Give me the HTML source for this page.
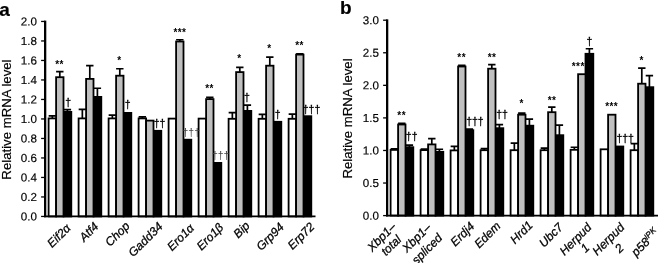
<!DOCTYPE html>
<html><head><meta charset="utf-8"><title>Figure</title>
<style>
html,body{margin:0;padding:0;background:#fff;}
svg{display:block;will-change:transform;font-family:"Liberation Sans", Arial, Helvetica, sans-serif;}
text{stroke:#000;stroke-width:0.18px;}
text.ns{stroke:none;letter-spacing:0.45px;}
text.dg{stroke-width:0.3px;}
text.xl{stroke-width:0.28px;}
</style></head>
<body>
<svg width="658" height="263" viewBox="0 0 658 263">
<rect width="658" height="263" fill="#fff"/>
<text x="-0.7" y="16" font-weight="bold" font-size="19">a</text>
<text x="340" y="13.8" font-weight="bold" font-size="19">b</text>
<g id="chart-a">
<path d="M52.35 118.50V115.85M48.65 115.85h7.4" stroke="#000" stroke-width="1.7" fill="none"/>
<rect x="48.60" y="118.40" width="7.50" height="98.05" fill="#fff" stroke="#000" stroke-width="1.8"/>
<path d="M67.40 112.00V109.55M63.70 109.55h7.4" stroke="#000" stroke-width="1.7" fill="none"/>
<rect x="63.50" y="111.90" width="7.80" height="104.55" fill="#000" stroke="#000" stroke-width="1.8"/>
<path d="M59.80 77.30V71.65M56.10 71.65h7.4" stroke="#000" stroke-width="1.7" fill="none"/>
<rect x="56.10" y="77.20" width="7.40" height="139.25" fill="#c0c0c0" stroke="#000" stroke-width="1.8"/>
<path d="M82.35 118.50V109.35M78.65 109.35h7.4" stroke="#000" stroke-width="1.7" fill="none"/>
<rect x="78.60" y="118.40" width="7.50" height="98.05" fill="#fff" stroke="#000" stroke-width="1.8"/>
<path d="M97.40 97.00V88.25M93.70 88.25h7.4" stroke="#000" stroke-width="1.7" fill="none"/>
<rect x="93.50" y="96.90" width="7.80" height="119.55" fill="#000" stroke="#000" stroke-width="1.8"/>
<path d="M89.80 79.00V65.55M86.10 65.55h7.4" stroke="#000" stroke-width="1.7" fill="none"/>
<rect x="86.10" y="78.90" width="7.40" height="137.55" fill="#c0c0c0" stroke="#000" stroke-width="1.8"/>
<path d="M112.35 118.50V115.15M108.65 115.15h7.4" stroke="#000" stroke-width="1.7" fill="none"/>
<rect x="108.60" y="118.40" width="7.50" height="98.05" fill="#fff" stroke="#000" stroke-width="1.8"/>
<rect x="123.50" y="112.90" width="7.80" height="103.55" fill="#000" stroke="#000" stroke-width="1.8"/>
<path d="M119.80 75.80V68.75M116.10 68.75h7.4" stroke="#000" stroke-width="1.7" fill="none"/>
<rect x="116.10" y="75.70" width="7.40" height="140.75" fill="#c0c0c0" stroke="#000" stroke-width="1.8"/>
<path d="M142.35 118.50V116.85M138.65 116.85h7.4" stroke="#000" stroke-width="1.7" fill="none"/>
<rect x="138.60" y="118.40" width="7.50" height="98.05" fill="#fff" stroke="#000" stroke-width="1.8"/>
<rect x="153.50" y="130.80" width="7.80" height="85.65" fill="#000" stroke="#000" stroke-width="1.8"/>
<rect x="146.10" y="120.60" width="7.40" height="95.85" fill="#c0c0c0" stroke="#000" stroke-width="1.8"/>
<rect x="168.60" y="118.60" width="7.50" height="97.85" fill="#fff" stroke="#000" stroke-width="1.8"/>
<rect x="183.50" y="139.70" width="7.80" height="76.75" fill="#000" stroke="#000" stroke-width="1.8"/>
<path d="M179.80 41.60V39.75M176.10 39.75h7.4" stroke="#000" stroke-width="1.7" fill="none"/>
<rect x="176.10" y="41.50" width="7.40" height="174.95" fill="#c0c0c0" stroke="#000" stroke-width="1.8"/>
<rect x="198.60" y="118.60" width="7.50" height="97.85" fill="#fff" stroke="#000" stroke-width="1.8"/>
<rect x="213.50" y="162.90" width="7.80" height="53.55" fill="#000" stroke="#000" stroke-width="1.8"/>
<path d="M209.80 99.20V97.35M206.10 97.35h7.4" stroke="#000" stroke-width="1.7" fill="none"/>
<rect x="206.10" y="99.10" width="7.40" height="117.35" fill="#c0c0c0" stroke="#000" stroke-width="1.8"/>
<path d="M232.35 118.90V112.55M228.65 112.55h7.4" stroke="#000" stroke-width="1.7" fill="none"/>
<rect x="228.60" y="118.80" width="7.50" height="97.65" fill="#fff" stroke="#000" stroke-width="1.8"/>
<path d="M247.40 111.00V105.05M243.70 105.05h7.4" stroke="#000" stroke-width="1.7" fill="none"/>
<rect x="243.50" y="110.90" width="7.80" height="105.55" fill="#000" stroke="#000" stroke-width="1.8"/>
<path d="M239.80 72.20V67.45M236.10 67.45h7.4" stroke="#000" stroke-width="1.7" fill="none"/>
<rect x="236.10" y="72.10" width="7.40" height="144.35" fill="#c0c0c0" stroke="#000" stroke-width="1.8"/>
<path d="M262.35 118.90V114.35M258.65 114.35h7.4" stroke="#000" stroke-width="1.7" fill="none"/>
<rect x="258.60" y="118.80" width="7.50" height="97.65" fill="#fff" stroke="#000" stroke-width="1.8"/>
<rect x="273.50" y="121.80" width="7.80" height="94.65" fill="#000" stroke="#000" stroke-width="1.8"/>
<path d="M269.80 65.80V57.05M266.10 57.05h7.4" stroke="#000" stroke-width="1.7" fill="none"/>
<rect x="266.10" y="65.70" width="7.40" height="150.75" fill="#c0c0c0" stroke="#000" stroke-width="1.8"/>
<path d="M292.35 118.90V114.05M288.65 114.05h7.4" stroke="#000" stroke-width="1.7" fill="none"/>
<rect x="288.60" y="118.80" width="7.50" height="97.65" fill="#fff" stroke="#000" stroke-width="1.8"/>
<rect x="303.50" y="116.20" width="7.80" height="100.25" fill="#000" stroke="#000" stroke-width="1.8"/>
<path d="M299.80 54.70V53.85M296.10 53.85h7.4" stroke="#000" stroke-width="1.7" fill="none"/>
<rect x="296.10" y="54.60" width="7.40" height="161.85" fill="#c0c0c0" stroke="#000" stroke-width="1.8"/>
<path d="M45.15 20.60V217.30" stroke="#000" stroke-width="2.3" fill="none"/>
<path d="M44.15 216.45H315.5" stroke="#000" stroke-width="1.75" fill="none"/>
<path d="M41.10 216.45H45.15" stroke="#000" stroke-width="1.3"/>
<text transform="translate(36.85,220.50) rotate(0.03)" text-anchor="end" font-size="11.6">0.0</text>
<path d="M41.10 196.95H45.15" stroke="#000" stroke-width="1.3"/>
<text transform="translate(36.85,201.00) rotate(0.03)" text-anchor="end" font-size="11.6">0.2</text>
<path d="M41.10 177.45H45.15" stroke="#000" stroke-width="1.3"/>
<text transform="translate(36.85,181.50) rotate(0.03)" text-anchor="end" font-size="11.6">0.4</text>
<path d="M41.10 157.95H45.15" stroke="#000" stroke-width="1.3"/>
<text transform="translate(36.85,162.00) rotate(0.03)" text-anchor="end" font-size="11.6">0.6</text>
<path d="M41.10 138.45H45.15" stroke="#000" stroke-width="1.3"/>
<text transform="translate(36.85,142.50) rotate(0.03)" text-anchor="end" font-size="11.6">0.8</text>
<path d="M41.10 118.95H45.15" stroke="#000" stroke-width="1.3"/>
<text transform="translate(36.85,123.00) rotate(0.03)" text-anchor="end" font-size="11.6">1.0</text>
<path d="M41.10 99.45H45.15" stroke="#000" stroke-width="1.3"/>
<text transform="translate(36.85,103.50) rotate(0.03)" text-anchor="end" font-size="11.6">1.2</text>
<path d="M41.10 79.95H45.15" stroke="#000" stroke-width="1.3"/>
<text transform="translate(36.85,84.00) rotate(0.03)" text-anchor="end" font-size="11.6">1.4</text>
<path d="M41.10 60.45H45.15" stroke="#000" stroke-width="1.3"/>
<text transform="translate(36.85,64.50) rotate(0.03)" text-anchor="end" font-size="11.6">1.6</text>
<path d="M41.10 40.95H45.15" stroke="#000" stroke-width="1.3"/>
<text transform="translate(36.85,45.00) rotate(0.03)" text-anchor="end" font-size="11.6">1.8</text>
<path d="M41.10 21.45H45.15" stroke="#000" stroke-width="1.3"/>
<text transform="translate(36.85,25.50) rotate(0.03)" text-anchor="end" font-size="11.6">2.0</text>
<text transform="translate(11.2,119.55) rotate(-90)" text-anchor="middle" font-size="13.2">Relative mRNA level</text>
<text transform="translate(71.45,228.9) rotate(-45)" text-anchor="end" class="xl" font-style="italic" font-size="12.0">Eif2α</text>
<text transform="translate(99.3,227.15) rotate(-45)" text-anchor="end" class="xl" font-style="italic" font-size="12.0">Atf4</text>
<text transform="translate(130.4,226.75) rotate(-45)" text-anchor="end" class="xl" font-style="italic" font-size="12.0">Chop</text>
<text transform="translate(163.35,227.4) rotate(-45)" text-anchor="end" class="xl" font-style="italic" font-size="12.0">Gadd34</text>
<text transform="translate(194.75,228.8) rotate(-45)" text-anchor="end" class="xl" font-style="italic" font-size="12.0">Ero1α</text>
<text transform="translate(224.2,228.25) rotate(-45)" text-anchor="end" class="xl" font-style="italic" font-size="12.0">Ero1β</text>
<text transform="translate(250.55,226.45) rotate(-45)" text-anchor="end" class="xl" font-style="italic" font-size="12.0">Bip</text>
<text transform="translate(284.75,227.75) rotate(-45)" text-anchor="end" class="xl" font-style="italic" font-size="12.0">Grp94</text>
<text transform="translate(315.25,227.5) rotate(-45)" text-anchor="end" class="xl" font-style="italic" font-size="12.0">Erp72</text>
<text x="59.6" y="67.6" text-anchor="middle" font-size="10" font-weight="bold" class="ns">**</text>
<text x="68.2" y="106" text-anchor="middle" font-size="10.5" class="dg">†</text>
<text x="119.5" y="64.1" text-anchor="middle" font-size="10" font-weight="bold" class="ns">*</text>
<text x="127.7" y="108.0" text-anchor="middle" font-size="10.5" class="dg">†</text>
<text x="159.5" y="127.4" text-anchor="middle" font-size="10.5" class="dg">††</text>
<text x="179.9" y="35.6" text-anchor="middle" font-size="10" font-weight="bold" class="ns">***</text>
<text x="191.3" y="135.5" text-anchor="middle" font-size="10.5" class="dg" fill="#444" style="stroke:none">†††</text>
<text x="209.5" y="92.1" text-anchor="middle" font-size="10" font-weight="bold" class="ns">**</text>
<text x="220.7" y="158.7" text-anchor="middle" font-size="10.5" class="dg" fill="#444" style="stroke:none">†††</text>
<text x="239.5" y="61.6" text-anchor="middle" font-size="10" font-weight="bold" class="ns">*</text>
<text x="247" y="101.2" text-anchor="middle" font-size="10.5" class="dg">†</text>
<text x="269.5" y="51.6" text-anchor="middle" font-size="10" font-weight="bold" class="ns">*</text>
<text x="277.6" y="117.8" text-anchor="middle" font-size="10.5" class="dg">†</text>
<text x="299.5" y="49.1" text-anchor="middle" font-size="10" font-weight="bold" class="ns">**</text>
<text x="311.5" y="112.9" text-anchor="middle" font-size="10.5" class="dg">†††</text>
</g>
<g id="chart-b">
<path d="M394.35 150.00V148.85M390.65 148.85h7.4" stroke="#000" stroke-width="1.7" fill="none"/>
<rect x="390.60" y="149.90" width="7.50" height="65.70" fill="#fff" stroke="#000" stroke-width="1.8"/>
<path d="M409.40 147.30V145.15M405.70 145.15h7.4" stroke="#000" stroke-width="1.7" fill="none"/>
<rect x="405.50" y="147.20" width="7.80" height="68.40" fill="#000" stroke="#000" stroke-width="1.8"/>
<path d="M401.80 124.60V123.25M398.10 123.25h7.4" stroke="#000" stroke-width="1.7" fill="none"/>
<rect x="398.10" y="124.50" width="7.40" height="91.10" fill="#c0c0c0" stroke="#000" stroke-width="1.8"/>
<path d="M424.35 150.20V149.15M420.65 149.15h7.4" stroke="#000" stroke-width="1.7" fill="none"/>
<rect x="420.60" y="150.10" width="7.50" height="65.50" fill="#fff" stroke="#000" stroke-width="1.8"/>
<path d="M439.40 151.90V149.25M435.70 149.25h7.4" stroke="#000" stroke-width="1.7" fill="none"/>
<rect x="435.50" y="151.80" width="7.80" height="63.80" fill="#000" stroke="#000" stroke-width="1.8"/>
<path d="M431.80 144.50V138.65M428.10 138.65h7.4" stroke="#000" stroke-width="1.7" fill="none"/>
<rect x="428.10" y="144.40" width="7.40" height="71.20" fill="#c0c0c0" stroke="#000" stroke-width="1.8"/>
<path d="M454.35 150.50V146.35M450.65 146.35h7.4" stroke="#000" stroke-width="1.7" fill="none"/>
<rect x="450.60" y="150.40" width="7.50" height="65.20" fill="#fff" stroke="#000" stroke-width="1.8"/>
<path d="M469.40 130.30V129.05M465.70 129.05h7.4" stroke="#000" stroke-width="1.7" fill="none"/>
<rect x="465.50" y="130.20" width="7.80" height="85.40" fill="#000" stroke="#000" stroke-width="1.8"/>
<path d="M461.80 66.60V65.45M458.10 65.45h7.4" stroke="#000" stroke-width="1.7" fill="none"/>
<rect x="458.10" y="66.50" width="7.40" height="149.10" fill="#c0c0c0" stroke="#000" stroke-width="1.8"/>
<path d="M484.35 150.30V148.65M480.65 148.65h7.4" stroke="#000" stroke-width="1.7" fill="none"/>
<rect x="480.60" y="150.20" width="7.50" height="65.40" fill="#fff" stroke="#000" stroke-width="1.8"/>
<path d="M499.40 128.30V124.65M495.70 124.65h7.4" stroke="#000" stroke-width="1.7" fill="none"/>
<rect x="495.50" y="128.20" width="7.80" height="87.40" fill="#000" stroke="#000" stroke-width="1.8"/>
<path d="M491.80 68.80V64.65M488.10 64.65h7.4" stroke="#000" stroke-width="1.7" fill="none"/>
<rect x="488.10" y="68.70" width="7.40" height="146.90" fill="#c0c0c0" stroke="#000" stroke-width="1.8"/>
<path d="M514.35 150.30V143.15M510.65 143.15h7.4" stroke="#000" stroke-width="1.7" fill="none"/>
<rect x="510.60" y="150.20" width="7.50" height="65.40" fill="#fff" stroke="#000" stroke-width="1.8"/>
<path d="M529.40 125.80V119.15M525.70 119.15h7.4" stroke="#000" stroke-width="1.7" fill="none"/>
<rect x="525.50" y="125.70" width="7.80" height="89.90" fill="#000" stroke="#000" stroke-width="1.8"/>
<path d="M521.80 114.80V113.15M518.10 113.15h7.4" stroke="#000" stroke-width="1.7" fill="none"/>
<rect x="518.10" y="114.70" width="7.40" height="100.90" fill="#c0c0c0" stroke="#000" stroke-width="1.8"/>
<path d="M544.35 150.30V148.15M540.65 148.15h7.4" stroke="#000" stroke-width="1.7" fill="none"/>
<rect x="540.60" y="150.20" width="7.50" height="65.40" fill="#fff" stroke="#000" stroke-width="1.8"/>
<path d="M559.40 135.30V125.15M555.70 125.15h7.4" stroke="#000" stroke-width="1.7" fill="none"/>
<rect x="555.50" y="135.20" width="7.80" height="80.40" fill="#000" stroke="#000" stroke-width="1.8"/>
<path d="M551.80 112.30V107.15M548.10 107.15h7.4" stroke="#000" stroke-width="1.7" fill="none"/>
<rect x="548.10" y="112.20" width="7.40" height="103.40" fill="#c0c0c0" stroke="#000" stroke-width="1.8"/>
<path d="M574.35 149.90V147.25M570.65 147.25h7.4" stroke="#000" stroke-width="1.7" fill="none"/>
<rect x="570.60" y="149.80" width="7.50" height="65.80" fill="#fff" stroke="#000" stroke-width="1.8"/>
<path d="M589.40 53.90V48.75M585.70 48.75h7.4" stroke="#000" stroke-width="1.7" fill="none"/>
<rect x="585.50" y="53.80" width="7.80" height="161.80" fill="#000" stroke="#000" stroke-width="1.8"/>
<rect x="578.10" y="74.20" width="7.40" height="141.40" fill="#c0c0c0" stroke="#000" stroke-width="1.8"/>
<rect x="600.60" y="149.30" width="7.50" height="66.30" fill="#fff" stroke="#000" stroke-width="1.8"/>
<rect x="615.50" y="146.50" width="7.80" height="69.10" fill="#000" stroke="#000" stroke-width="1.8"/>
<rect x="608.10" y="114.70" width="7.40" height="100.90" fill="#c0c0c0" stroke="#000" stroke-width="1.8"/>
<path d="M634.35 150.30V143.65M630.65 143.65h7.4" stroke="#000" stroke-width="1.7" fill="none"/>
<rect x="630.60" y="150.20" width="7.50" height="65.40" fill="#fff" stroke="#000" stroke-width="1.8"/>
<path d="M649.40 87.30V75.65M645.70 75.65h7.4" stroke="#000" stroke-width="1.7" fill="none"/>
<rect x="645.50" y="87.20" width="7.80" height="128.40" fill="#000" stroke="#000" stroke-width="1.8"/>
<path d="M641.80 83.80V68.15M638.10 68.15h7.4" stroke="#000" stroke-width="1.7" fill="none"/>
<rect x="638.10" y="83.70" width="7.40" height="131.90" fill="#c0c0c0" stroke="#000" stroke-width="1.8"/>
<path d="M387.15 19.35V216.45" stroke="#000" stroke-width="2.3" fill="none"/>
<path d="M386.15 215.60H658" stroke="#000" stroke-width="1.75" fill="none"/>
<path d="M383.10 215.60H387.15" stroke="#000" stroke-width="1.3"/>
<text transform="translate(378.85,219.65) rotate(0.03)" text-anchor="end" font-size="11.6">0.0</text>
<path d="M383.10 183.03H387.15" stroke="#000" stroke-width="1.3"/>
<text transform="translate(378.85,187.08) rotate(0.03)" text-anchor="end" font-size="11.6">0.5</text>
<path d="M383.10 150.47H387.15" stroke="#000" stroke-width="1.3"/>
<text transform="translate(378.85,154.52) rotate(0.03)" text-anchor="end" font-size="11.6">1.0</text>
<path d="M383.10 117.90H387.15" stroke="#000" stroke-width="1.3"/>
<text transform="translate(378.85,121.95) rotate(0.03)" text-anchor="end" font-size="11.6">1.5</text>
<path d="M383.10 85.33H387.15" stroke="#000" stroke-width="1.3"/>
<text transform="translate(378.85,89.38) rotate(0.03)" text-anchor="end" font-size="11.6">2.0</text>
<path d="M383.10 52.77H387.15" stroke="#000" stroke-width="1.3"/>
<text transform="translate(378.85,56.82) rotate(0.03)" text-anchor="end" font-size="11.6">2.5</text>
<path d="M383.10 20.20H387.15" stroke="#000" stroke-width="1.3"/>
<text transform="translate(378.85,24.25) rotate(0.03)" text-anchor="end" font-size="11.6">3.0</text>
<text transform="translate(351.8,118.50) rotate(-90)" text-anchor="middle" font-size="13.2">Relative mRNA level</text>
<text transform="translate(396.75,227.6) rotate(-45)" text-anchor="end" class="xl" font-style="italic" font-size="12.0">Xbp1–</text>
<text transform="translate(394.03,248.3) rotate(-45)" text-anchor="middle" class="xl" font-style="italic" font-size="12.0">total</text>
<text transform="translate(431.6,228.35) rotate(-45)" text-anchor="end" class="xl" font-style="italic" font-size="12.0">Xbp1–</text>
<text transform="translate(429.88,251.7) rotate(-45)" text-anchor="middle" class="xl" font-style="italic" font-size="12.0">spliced</text>
<text transform="translate(475.1,227.15) rotate(-45)" text-anchor="end" class="xl" font-style="italic" font-size="12.0">Erdj4</text>
<text transform="translate(501.35,226.65) rotate(-45)" text-anchor="end" class="xl" font-style="italic" font-size="12.0">Edem</text>
<text transform="translate(533.35,226.1) rotate(-45)" text-anchor="end" class="xl" font-style="italic" font-size="12.0">Hrd1</text>
<text transform="translate(563.8,228.1) rotate(-45)" text-anchor="end" class="xl" font-style="italic" font-size="12.0">Ubc7</text>
<text transform="translate(592.3,228.05) rotate(-45)" text-anchor="end" class="xl" font-style="italic" font-size="12.0">Herpud</text>
<text transform="translate(587.8,250.85) rotate(-45)" text-anchor="middle" class="xl" font-style="italic" font-size="12.0">1</text>
<text transform="translate(625.1,228.05) rotate(-45)" text-anchor="end" class="xl" font-style="italic" font-size="12.0">Herpud</text>
<text transform="translate(622.15,251.05) rotate(-45)" text-anchor="middle" class="xl" font-style="italic" font-size="12.0">2</text>
<text transform="translate(659.5,233.7) rotate(-45)" text-anchor="end" class="xl" font-style="italic" font-size="12.0">p58<tspan font-size="8.2" dy="-4.2" dx="-0.3">IPK</tspan></text>
<text x="401.7" y="118.6" text-anchor="middle" font-size="10" font-weight="bold" class="ns">**</text>
<text x="411.7" y="139.5" text-anchor="middle" font-size="10.5" class="dg">††</text>
<text x="461.7" y="61.3" text-anchor="middle" font-size="10" font-weight="bold" class="ns">**</text>
<text x="474.9" y="125.1" text-anchor="middle" font-size="10.5" class="dg">†††</text>
<text x="492" y="61.2" text-anchor="middle" font-size="10" font-weight="bold" class="ns">**</text>
<text x="502" y="118.3" text-anchor="middle" font-size="10.5" class="dg">††</text>
<text x="521.7" y="106.8" text-anchor="middle" font-size="10" font-weight="bold" class="ns">*</text>
<text x="552" y="104.1" text-anchor="middle" font-size="10" font-weight="bold" class="ns">**</text>
<text x="578.3" y="69.8" text-anchor="middle" font-size="10" font-weight="bold" class="ns">***</text>
<text x="589.3" y="45" text-anchor="middle" font-size="10.5" class="dg">†</text>
<text x="611.7" y="109.8" text-anchor="middle" font-size="10" font-weight="bold" class="ns">***</text>
<text x="625.2" y="141.7" text-anchor="middle" font-size="10.5" class="dg">†††</text>
<text x="641.6" y="64.3" text-anchor="middle" font-size="10" font-weight="bold" class="ns">*</text>
</g>
</svg>
</body></html>
